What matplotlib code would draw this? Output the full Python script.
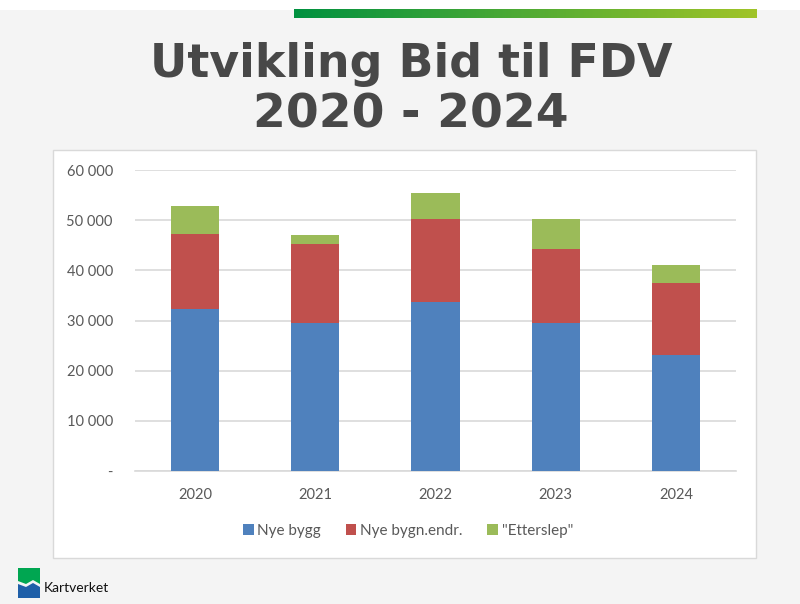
import matplotlib
matplotlib.use("Agg")
import matplotlib.pyplot as plt
import numpy as np
from matplotlib.patches import Rectangle, Polygon

years = ["2020", "2021", "2022", "2023", "2024"]
nye_bygg = [32300, 29500, 33700, 29500, 23200]
nye_bygn_endr = [15000, 15700, 16500, 14700, 14200]
etterslep = [5600, 1900, 5200, 6100, 3700]
series_names = ["Nye bygg", "Nye bygn.endr.", "\"Etterslep\""]
series_colors = ["#4f81bd", "#c0504d", "#9bbb59"]
yticks = [0, 10000, 20000, 30000, 40000, 50000, 60000]

W, H = 800, 604
fig = plt.figure(figsize=(W / 100, H / 100), dpi=100)
fig.patch.set_facecolor("#f4f4f4")

def fx(px):
    return px / W

def fy(py):
    return 1 - py / H

# background axes holding the white strip, chart box and logo
bg = fig.add_axes([0, 0, 1, 1], zorder=-10)
bg.set_xlim(0, W)
bg.set_ylim(H, 0)
bg.set_axis_off()
bg.add_patch(Rectangle((0, 0), W, 10, facecolor="white", edgecolor="none"))
bg.add_patch(Rectangle((53, 150), 703, 408, facecolor="white",
                       edgecolor="#d9d9d9", linewidth=1))
bg.add_patch(Polygon([[18, 568], [40, 568], [40, 584], [33, 580], [26, 584], [18, 581]],
                     closed=True, facecolor="#00a651", edgecolor="none"))
bg.add_patch(Polygon([[18, 584], [26, 587], [33, 583], [40, 587], [40, 598], [18, 598]],
                     closed=True, facecolor="#1f5fa8", edgecolor="none"))

# gradient bar
gax = fig.add_axes([fx(294), fy(18), fx(757) - fx(294), 9 / H])
grad = np.linspace(0, 1, 256)
c0 = np.array([0, 145, 64]) / 255
c1 = np.array([160, 196, 40]) / 255
img = (c0[None, :] * (1 - grad[:, None]) + c1[None, :] * grad[:, None])[None, :, :]
gax.imshow(img, aspect="auto", extent=[0, 1, 0, 1])
gax.set_axis_off()

# title
title_color = "#484848"
fig.text(fx(411), fy(77), "Utvikling Bid til FDV", ha="center", va="baseline",
         fontsize=33, fontweight="bold", color=title_color, family="DejaVu Sans")
fig.text(fx(411), fy(128), "2020 - 2024", ha="center", va="baseline",
         fontsize=34, fontweight="bold", color=title_color, family="DejaVu Sans")

ax = fig.add_axes([fx(135), fy(471), fx(736) - fx(135), (471 - 170) / H])
ax.set_facecolor("none")
x = np.arange(len(years))
b1 = ax.bar(x, nye_bygg, width=0.4, color=series_colors[0], label=series_names[0], zorder=3)
bottom2 = np.array(nye_bygg)
b2 = ax.bar(x, nye_bygn_endr, width=0.4, bottom=bottom2, color=series_colors[1],
            label=series_names[1], zorder=3)
bottom3 = bottom2 + np.array(nye_bygn_endr)
b3 = ax.bar(x, etterslep, width=0.4, bottom=bottom3, color=series_colors[2],
            label=series_names[2], zorder=3)

ax.set_xlim(-0.5, len(years) - 0.5)
ax.set_ylim(0, 60000)
ax.set_yticks(yticks)

def fmt(v):
    if v == 0:
        return "-"
    return f"{int(v):,}".replace(",", " ")

ax.set_yticklabels([fmt(v) for v in yticks])
ax.set_xticks(x)
ax.set_xticklabels(years)
ax.yaxis.grid(True, color="#d9d9d9", linewidth=1.2, zorder=0)
ax.set_axisbelow(True)
for s in ["top", "right", "left"]:
    ax.spines[s].set_visible(False)
ax.spines["bottom"].set_color("#d9d9d9")
ax.spines["bottom"].set_linewidth(1.2)
ax.tick_params(axis="both", length=0, colors="#595959", labelsize=10.5)
ax.tick_params(axis="y", pad=16)
ax.tick_params(axis="x", pad=12.5)
for lab in ax.get_xticklabels() + ax.get_yticklabels():
    lab.set_family("Lato")

leg = fig.legend(handles=[b1, b2, b3], labels=series_names, loc="center",
                 bbox_to_anchor=(fx(408), fy(531)), ncol=3, frameon=False,
                 handlelength=0.7, handleheight=0.7, handletextpad=0.25,
                 columnspacing=1.6, prop={"family": "Lato", "size": 11})
for t in leg.get_texts():
    t.set_color("#595959")

fig.text(fx(44), fy(588), "Kartverket", ha="left", va="center", fontsize=10,
         color="#111111", family="Lato")

fig.savefig("out.png", dpi=100, facecolor=fig.get_facecolor())
